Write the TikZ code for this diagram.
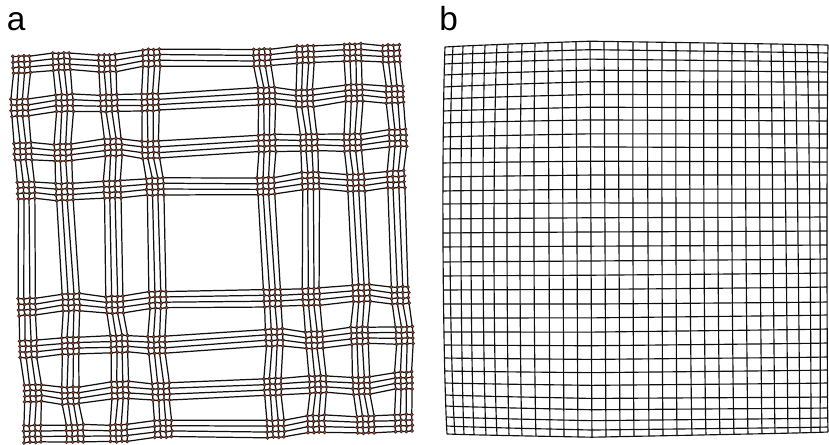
\documentclass[tikz,border=0pt]{standalone}
\usepackage{fontspec}
\setmainfont{Liberation Sans}
\usepackage{xcolor}
\definecolor{MeshBlack}{HTML}{101010}
\definecolor{BeadRed}{HTML}{C4502A}
\definecolor{BeadEdge}{HTML}{2E2220}
\tikzset{
    % line styles
    meshline/.style={
        draw=MeshBlack,
        line width=0.7pt,
        line join=round
    },
    fineline/.style={
        draw=MeshBlack,
        line width=0.65pt,
        line join=round
    },
    % markers at the crossings of panel a
    bead/.style={
        fill=BeadRed,
        draw=BeadEdge,
        line width=0.35pt
    },
    panellabel/.style={
        anchor=base west,
        inner sep=0pt,
        font=\fontsize{19}{22}\selectfont
    }
}
\newcommand\pick[2]{\csname#1#2\endcsname}

\begin{document}
\begin{tikzpicture}[x=0.02cm, y=-0.02cm]
    \useasboundingbox (0,0) rectangle (829,444);

    % stored positions: bundle centres (a), edge profiles (b)
    \foreach \v [count=\k from 0] in {26.3,67.4,114.6,155.5,269.8,311.3,357.8,399.3} {\expandafter\xdef\csname colc\k\endcsname{\v}}
    \foreach \v [count=\k from 0] in {58,99.5,146,186,299.5,341.5,388.8,428.8} {\expandafter\xdef\csname rowc\k\endcsname{\v}}
    \foreach \v [count=\k from 0] in {445,453,463,473,485,497,508,522,535,548,562,576,590,604,618,633,647,662,676,690,704,718,732,745,758,771,783,795,807,818,828} {\expandafter\xdef\csname bxt\k\endcsname{\v}}
    \foreach \v [count=\k from 0] in {443,450,461,471,483,494,507,520,534,549,563,577,591,605,619,633,648,662,676,690,704,718,732,746,760,773,786,798,810,820,827} {\expandafter\xdef\csname bxm\k\endcsname{\v}}
    \foreach \v [count=\k from 0] in {447,455,464,474,486,497,509,522,536,550,564,578,592,606,620,634,649,663,677,692,706,720,734,748,762,775,788,800,811,820,828} {\expandafter\xdef\csname bxb\k\endcsname{\v}}
    \foreach \v [count=\k from 0] in {47,55,64,75,87,99,111,123,137,149,163,177,191,204,219,233,247,262,276,290,304,318,332,345,358,371,383,395,406,417,426,434} {\expandafter\xdef\csname byl\k\endcsname{\v}}
    \foreach \v [count=\k from 0] in {45,53,62,72,82,95,108,121,134,148,162,175,189,203,217,231,245,259,273,287,302,315,329,343,357,370,383,397,408,418,427,432} {\expandafter\xdef\csname byr\k\endcsname{\v}}

    % panel a: crossings of the bundled lines
    \foreach \i in {0,...,31}{
        \foreach \j in {0,...,31}{
            \pgfmathtruncatemacro\I{\i/4}
            \pgfmathtruncatemacro\J{\j/4}
            \pgfmathsetmacro\ux{\pick{colc}{\I}+(mod(\i,4)-1.5)*5.6+2*sin(137.5*\I+251.3*\J+40)+0.35*sin(93.7*\i+171.9*\j)-212}
            \pgfmathsetmacro\uy{\pick{rowc}{\J}+(mod(\j,4)-1.5)*5.6+2*sin(211.7*\I+97.1*\J+10)+0.35*sin(157.3*\i+61.1*\j)-245}
            \coordinate (a-\i-\j) at ({212+\ux*0.9995+\uy*0.033},{245+\uy*0.9995-\ux*0.033});
        }
    }
    \foreach \i in {0,...,31}{
        \draw[meshline] (a-\i-0) \foreach \j in {1,...,31}{ -- (a-\i-\j)};
        \draw[meshline] (a-0-\i) \foreach \j in {1,...,31}{ -- (a-\j-\i)};
    }
    \foreach \i in {0,...,31}{
        \foreach \j in {0,...,31}{
            \filldraw[bead] (a-\i-\j) circle[radius=1.6];
        }
    }

    % panel b: the regular mesh
    \foreach \i in {0,...,30}{
        \foreach \j in {0,...,31}{
            \pgfmathsetmacro\v{\j/31}
            \pgfmathsetmacro\px{\pick{bxt}{\i}*(1-\v)*(1-2*\v)+\pick{bxm}{\i}*4*\v*(1-\v)+\pick{bxb}{\i}*\v*(2*\v-1)}
            \pgfmathsetmacro\ym{(\pick{byl}{\j}*18+\pick{byr}{\j}*12)/30-5*(1-\v)^3+4*\v^3}
            \ifnum\i<12
                \pgfmathsetmacro\py{\pick{byl}{\j}+(\ym-\pick{byl}{\j})*\i/12}
            \else
                \pgfmathsetmacro\py{\ym+(\pick{byr}{\j}-\ym)*(\i-12)/18}
            \fi
            \coordinate (b-\i-\j) at (\px,\py);
        }
    }
    \foreach \i in {0,...,30}
        \draw[fineline] (b-\i-0) \foreach \j in {1,...,31}{ -- (b-\i-\j)};
    \foreach \j in {0,...,31}
        \draw[fineline] (b-0-\j) \foreach \i in {1,...,30}{ -- (b-\i-\j)};

    \node[panellabel] (labela) at (6.5,30.5) {a};
    \node[panellabel] (labelb) at (439,30.5) {b};
\end{tikzpicture}
\end{document}
